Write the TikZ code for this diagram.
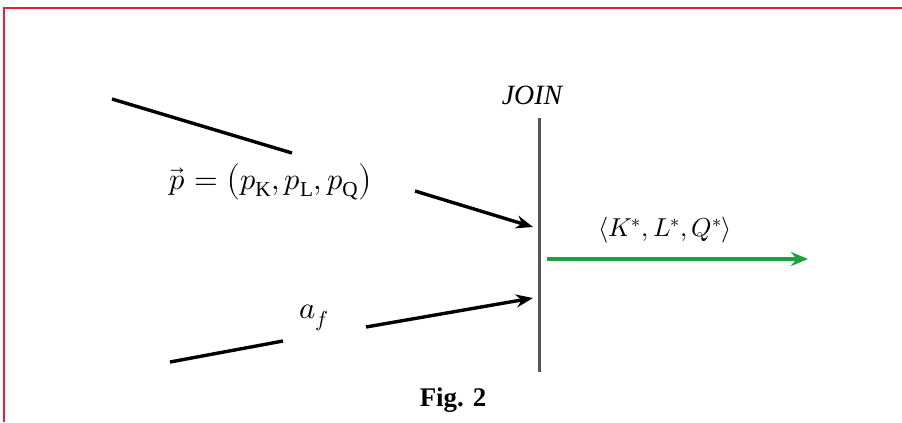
\documentclass[tikz,border=0pt]{standalone}
\usepackage{fontspec}
\usepackage{unicode-math}
\setmainfont{Liberation Serif}
\setmathfont{Latin Modern Math}
\usetikzlibrary{arrows.meta}
\definecolor{framered}{RGB}{232,30,55}
\definecolor{flowgreen}{RGB}{30,160,60}
\definecolor{joingray}{RGB}{85,85,85}
\begin{document}
\begin{tikzpicture}[x=1bp,y=-1bp,
  flow/.style={line width=3.4bp,black},
  tip/.style={-{Stealth[length=17bp,width=13bp]}},
  lbl/.style={inner sep=0pt,font=\fontsize{27}{32}\selectfont}]
\useasboundingbox (0,0) rectangle (902,422);
% frame
\draw[framered,line width=1.6bp] (4,422) -- (4,8) -- (902,8);
% JOIN bar
\coordinate (jtop) at (539,118);
\coordinate (jbot) at (539,372);
\draw[joingray,line width=3bp] (jtop) -- (jbot);
\node[lbl,font=\fontsize{28}{32}\selectfont\itshape] (join) at (532,95) {JOIN};
% upper input
\coordinate (u0) at (112,99);
\coordinate (u1) at (292,153);
\coordinate (u2) at (415,191);
\coordinate (u3) at (533,227);
\draw[flow] (u0) -- (u1);
\draw[flow,tip] (u2) -- (u3);
\node[lbl,font=\fontsize{30.5}{36}\selectfont] (plab) at (271,182) {$\vec{p}=\left(p_{\mathrm{K}},p_{\mathrm{L}},p_{\mathrm{Q}}\right)$};
% lower input
\coordinate (a0) at (170,362);
\coordinate (a1) at (283,341);
\coordinate (a2) at (366,327);
\coordinate (a3) at (533,298);
\draw[flow] (a0) -- (a1);
\draw[flow,tip] (a2) -- (a3);
\node[lbl,font=\fontsize{31}{36}\selectfont] (alab) at (314,318) {$a_f$};
% output
\coordinate (o0) at (547,259);
\coordinate (o1) at (808,259);
\draw[flowgreen,line width=4bp,-{Stealth[length=17bp,width=14bp]}] (o0) -- (o1);
\node[lbl,font=\fontsize{26}{30}\selectfont] (olab) at (665,230) {$\langle K^{*},L^{*},Q^{*}\rangle$};
% caption
\node[lbl,font=\fontsize{27}{32}\selectfont\bfseries] (cap) at (453,400) {Fig. 2};
\end{tikzpicture}
\end{document}
